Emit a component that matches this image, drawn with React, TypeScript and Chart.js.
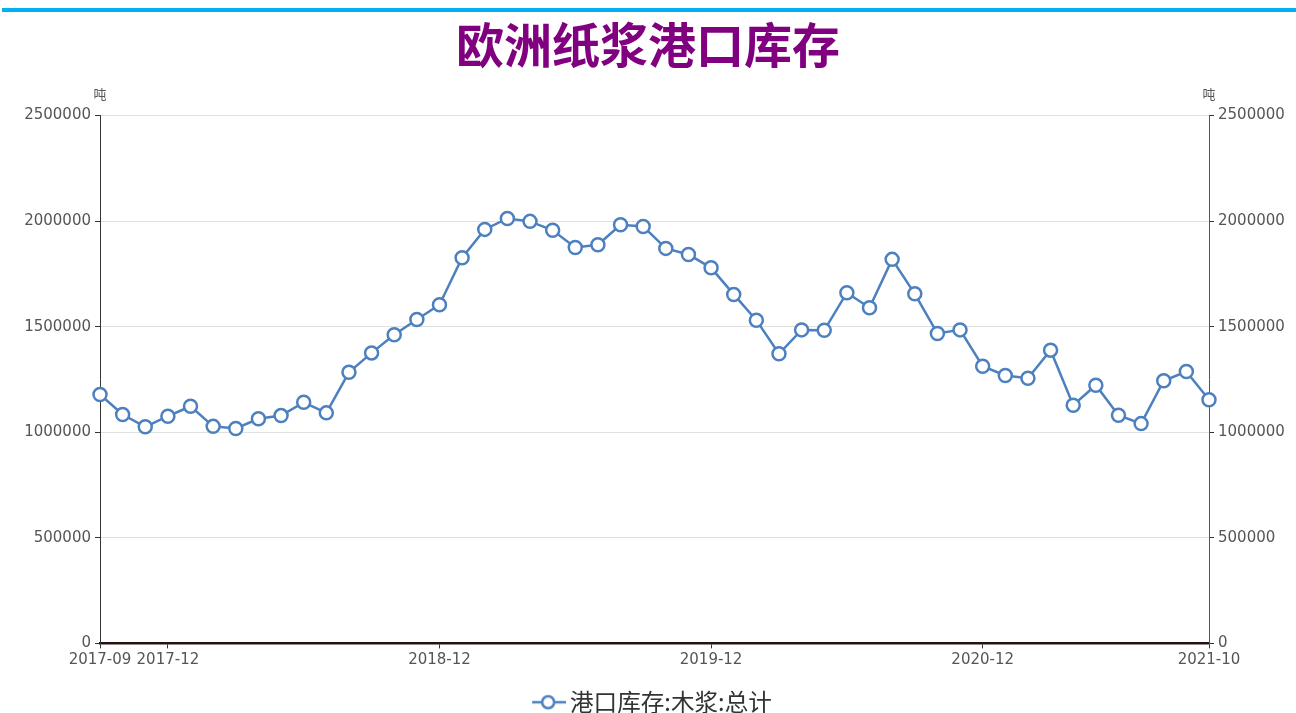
import React, { useEffect, useRef } from 'react';
import { Chart, registerables } from 'chart.js';

Chart.register(...registerables);

const TITLE = '欧洲纸浆港口库存';
const SERIES_NAME = '港口库存:木浆:总计';
const UNIT = '吨';

const MONTHS = [
  '2017-09', '2017-10', '2017-11', '2017-12',
  '2018-01', '2018-02', '2018-03', '2018-04', '2018-05', '2018-06',
  '2018-07', '2018-08', '2018-09', '2018-10', '2018-11', '2018-12',
  '2019-01', '2019-02', '2019-03', '2019-04', '2019-05', '2019-06',
  '2019-07', '2019-08', '2019-09', '2019-10', '2019-11', '2019-12',
  '2020-01', '2020-02', '2020-03', '2020-04', '2020-05', '2020-06',
  '2020-07', '2020-08', '2020-09', '2020-10', '2020-11', '2020-12',
  '2021-01', '2021-02', '2021-03', '2021-04', '2021-05', '2021-06',
  '2021-07', '2021-08', '2021-09', '2021-10',
];

const STOCK = [
  1179000, 1084000, 1026000, 1076000,
  1123000, 1028000, 1018000, 1064000, 1079000, 1142000,
  1092000, 1284000, 1376000, 1462000, 1534000, 1604000,
  1827000, 1961000, 2013000, 1999000, 1957000, 1875000,
  1888000, 1983000, 1975000, 1871000, 1842000, 1779000,
  1653000, 1531000, 1372000, 1485000, 1483000, 1661000,
  1590000, 1819000, 1656000, 1468000, 1485000, 1313000,
  1269000, 1256000, 1389000, 1128000, 1223000, 1081000,
  1041000, 1244000, 1288000, 1154000,
];

const SHOWN_MONTHS = ['2017-09', '2017-12', '2018-12', '2019-12', '2020-12', '2021-10'];

const Y_MIN = 0;
const Y_MAX = 2500000;
const Y_STEP = 500000;

const LINE_COLOR = '#4d80bf';
const AXIS_TEXT = '#555555';
const TICK_FONT = { family: '"DejaVu Sans", sans-serif', size: 15 };

function makeLegendIcon(): HTMLCanvasElement {
  const c = document.createElement('canvas');
  c.width = 50;
  c.height = 18;
  const g = c.getContext('2d')!;
  g.strokeStyle = LINE_COLOR;
  g.lineWidth = 2.5;
  g.beginPath();
  g.moveTo(16, 9);
  g.lineTo(50, 9);
  g.stroke();
  g.beginPath();
  g.arc(32, 9, 6, 0, Math.PI * 2);
  g.fillStyle = '#ffffff';
  g.fill();
  g.stroke();
  return c;
}

const decorPlugin = {
  id: 'decor',
  beforeDraw(chart: any) {
    const ctx = chart.ctx;
    ctx.save();
    ctx.fillStyle = '#ffffff';
    ctx.fillRect(0, 0, chart.width, chart.height);
    ctx.fillStyle = '#00b0f0';
    ctx.fillRect(2, 8, chart.width - 2, 4);
    ctx.restore();
  },
  afterDraw(chart: any) {
    const ctx = chart.ctx;
    const yl = chart.scales.y;
    const yr = chart.scales.y1;
    const top = chart.chartArea.top;
    ctx.save();
    ctx.font = '13px "Noto Sans CJK SC", sans-serif';
    ctx.fillStyle = AXIS_TEXT;
    ctx.textAlign = 'center';
    ctx.textBaseline = 'middle';
    ctx.fillText(UNIT, yl.right, top - 22);
    ctx.fillText(UNIT, yr.left, top - 22);
    ctx.restore();
  },
};

export default function App() {
  const ref = useRef<HTMLCanvasElement | null>(null);

  useEffect(() => {
    if (!ref.current) return;
    const icon = makeLegendIcon();
    const shownIdx = SHOWN_MONTHS.map((m) => MONTHS.indexOf(m));

    const chart = new Chart(ref.current, {
      type: 'line',
      data: {
        labels: MONTHS,
        datasets: [
          {
            label: SERIES_NAME,
            data: STOCK,
            borderColor: LINE_COLOR,
            backgroundColor: '#ffffff',
            borderWidth: 2.5,
            pointRadius: 6.5,
            pointBorderWidth: 2.5,
            pointBackgroundColor: '#ffffff',
            pointBorderColor: LINE_COLOR,
            tension: 0,
            fill: false,
            yAxisID: 'y',
          },
        ],
      },
      options: {
        responsive: false,
        animation: false,
        layout: { padding: { left: 0, right: 0, top: 0, bottom: -11 } },
        plugins: {
          title: {
            display: true,
            text: TITLE,
            color: '#800080',
            font: { family: '"Noto Sans CJK SC", sans-serif', size: 48, weight: 'bold' },
            padding: { top: 16, bottom: 42 },
          },
          legend: {
            display: true,
            position: 'bottom',
            labels: {
              usePointStyle: true,
              pointStyle: icon as any,
              pointStyleWidth: 34,
              padding: 0,
              color: '#333333',
              font: { family: '"Noto Sans CJK SC", sans-serif', size: 23.6 },
            },
          },
          tooltip: { enabled: false },
        },
        scales: {
          x: {
            type: 'category',
            offset: false,
            afterFit: (s: any) => { s.height = 47; },
            afterBuildTicks: (s: any) => {
              s.ticks = s.ticks.filter((t: any) => shownIdx.includes(t.value));
            },
            grid: {
              drawOnChartArea: false,
              drawTicks: true,
              tickLength: 5,
              tickColor: '#333333',
            },
            border: { display: true, color: '#2a1010', width: 2.5 },
            ticks: {
              autoSkip: false,
              maxRotation: 0,
              minRotation: 0,
              padding: 3,
              color: AXIS_TEXT,
              font: TICK_FONT,
              callback: function (this: any, value: any) {
                return this.getLabelForValue(value);
              },
            },
          },
          y: {
            position: 'left',
            min: Y_MIN,
            max: Y_MAX,
            afterFit: (s: any) => { s.width = 100; },
            grid: {
              color: '#e0e0e0',
              lineWidth: 1,
              drawTicks: true,
              tickLength: 5,
              tickColor: '#333333',
            },
            border: { display: true, color: '#333333', width: 1 },
            ticks: {
              stepSize: Y_STEP,
              padding: 4,
              color: AXIS_TEXT,
              font: TICK_FONT,
              callback: (v: any) => String(v),
            },
          },
          y1: {
            position: 'right',
            min: Y_MIN,
            max: Y_MAX,
            afterFit: (s: any) => { s.width = 87; },
            grid: {
              drawOnChartArea: false,
              drawTicks: true,
              tickLength: 5,
              tickColor: '#333333',
            },
            border: { display: true, color: '#555555', width: 1 },
            ticks: {
              stepSize: Y_STEP,
              padding: 4,
              color: AXIS_TEXT,
              font: TICK_FONT,
              callback: (v: any) => String(v),
            },
          },
        },
      },
      plugins: [decorPlugin],
    });

    return () => chart.destroy();
  }, []);

  return (
    <div style={{ position: 'fixed', left: 0, top: 0, width: 1296, height: 713, background: '#fff' }}>
      <canvas ref={ref} width={1296} height={713} style={{ display: 'block' }} />
    </div>
  );
}
